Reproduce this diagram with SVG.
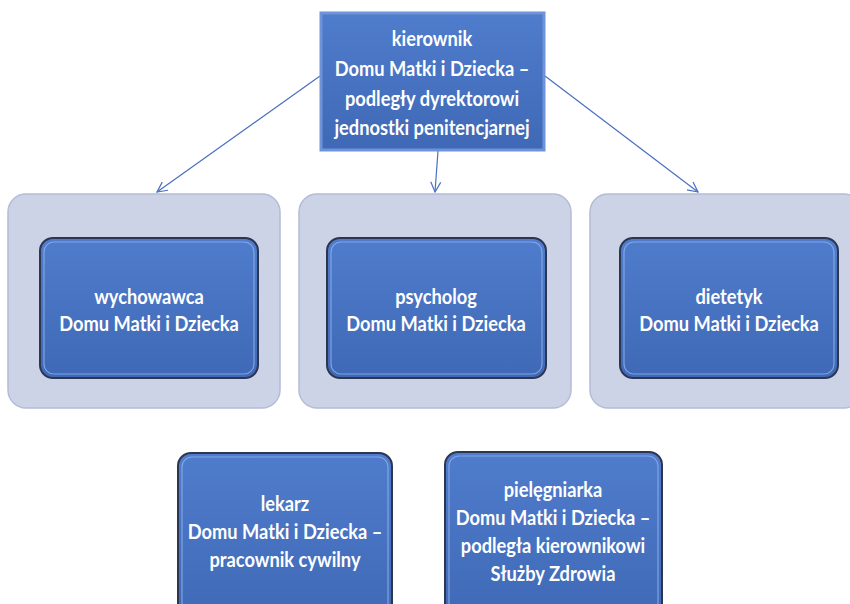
<svg xmlns="http://www.w3.org/2000/svg" width="850" height="604" viewBox="0 0 850 604">
<defs>
<linearGradient id="blue" x1="0" y1="0" x2="0" y2="1">
<stop offset="0" stop-color="#4f7ccc"/>
<stop offset="1" stop-color="#3f69b6"/>
</linearGradient>
<marker id="arr" viewBox="0 0 12 12" refX="11" refY="6" markerWidth="12" markerHeight="12" markerUnits="userSpaceOnUse" orient="auto">
<path d="M1,1 L11,6 L1,11" fill="none" stroke="#4a6fc0" stroke-width="1.2"/>
</marker>
</defs>
<style>
.outer{fill:#cdd3e7;stroke:#b4bcd6;stroke-width:1.5}
.inner{fill:url(#blue);stroke:#2c3650;stroke-width:2}
.hl{fill:none;stroke:#8fb0ea;stroke-width:1.2;opacity:0.8}
.top{fill:url(#blue);stroke:#6f93d8;stroke-width:3}
.t{font-family:"Lato","Liberation Sans",sans-serif;font-weight:bold;fill:#ffffff;text-anchor:middle;font-size:21px}
.c{fill:none;stroke:#4a6fc0;stroke-width:1.2;marker-end:url(#arr)}
</style>
<g id="connectors">
<line class="c" x1="320" y1="76" x2="157" y2="192"/>
<line class="c" x1="438" y1="151" x2="435" y2="192"/>
<line class="c" x1="545" y1="76" x2="698" y2="192"/>
</g>
<g id="kierownik">
<rect class="top" x="321" y="13" width="223" height="137"/>
<g transform="translate(432,0) scale(0.87,1)">
<text class="t" x="0" y="46">kierownik</text>
<text class="t" x="0" y="76">Domu Matki i Dziecka –</text>
<text class="t" x="0" y="106">podległy dyrektorowi</text>
<text class="t" x="0" y="135">jednostki penitencjarnej</text>
</g>
</g>
<g id="wychowawca">
<rect class="outer" x="8" y="194" width="272" height="214" rx="18"/>
<rect class="inner" x="40" y="238" width="218" height="140" rx="13"/>
<rect class="hl" x="44" y="242" width="210" height="132" rx="10"/>
<g transform="translate(149,0) scale(0.87,1)">
<text class="t" x="0" y="304">wychowawca</text>
<text class="t" x="0" y="331">Domu Matki i Dziecka</text>
</g>
</g>
<g id="psycholog">
<rect class="outer" x="299" y="194" width="272" height="214" rx="18"/>
<rect class="inner" x="327" y="238" width="219" height="140" rx="13"/>
<rect class="hl" x="331" y="242" width="211" height="132" rx="10"/>
<g transform="translate(436,0) scale(0.87,1)">
<text class="t" x="0" y="304">psycholog</text>
<text class="t" x="0" y="331">Domu Matki i Dziecka</text>
</g>
</g>
<g id="dietetyk">
<rect class="outer" x="590" y="194" width="272" height="214" rx="18"/>
<rect class="inner" x="620" y="238" width="218" height="140" rx="13"/>
<rect class="hl" x="624" y="242" width="210" height="132" rx="10"/>
<g transform="translate(729,0) scale(0.87,1)">
<text class="t" x="0" y="304">dietetyk</text>
<text class="t" x="0" y="331">Domu Matki i Dziecka</text>
</g>
</g>
<g id="lekarz">
<rect class="inner" x="178" y="453" width="214" height="170" rx="13"/>
<rect class="hl" x="182" y="457" width="206" height="162" rx="10"/>
<g transform="translate(285,0) scale(0.87,1)">
<text class="t" x="0" y="511">lekarz</text>
<text class="t" x="0" y="539">Domu Matki i Dziecka –</text>
<text class="t" x="0" y="567">pracownik cywilny</text>
</g>
</g>
<g id="pielegniarka">
<rect class="inner" x="445" y="452" width="217" height="170" rx="13"/>
<rect class="hl" x="449" y="456" width="209" height="162" rx="10"/>
<g transform="translate(553,0) scale(0.87,1)">
<text class="t" x="0" y="497">pielęgniarka</text>
<text class="t" x="0" y="525">Domu Matki i Dziecka –</text>
<text class="t" x="0" y="553">podległa kierownikowi</text>
<text class="t" x="0" y="581">Służby Zdrowia</text>
</g>
</g>
</svg>
